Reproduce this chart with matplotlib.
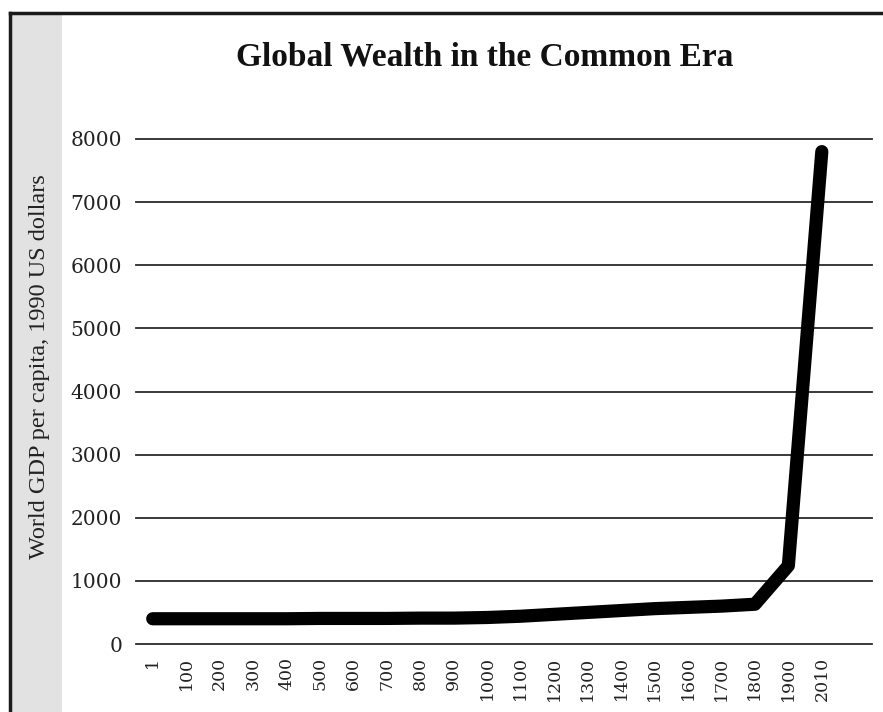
import matplotlib
matplotlib.use("Agg")
import matplotlib.pyplot as plt
from matplotlib.lines import Line2D
from matplotlib.patches import Rectangle

years = ["1", "100", "200", "300", "400", "500", "600", "700", "800", "900",
         "1000", "1100", "1200", "1300", "1400", "1500", "1600", "1700",
         "1800", "1900", "2010"]
gdp = [400, 400, 400, 400, 400, 405, 405, 405, 410, 410,
       420, 440, 470, 500, 530, 560, 580, 600, 630, 1240, 7800]
yticks = [0, 1000, 2000, 3000, 4000, 5000, 6000, 7000, 8000]

W, H = 883, 712
fig = plt.figure(figsize=(W / 100, H / 100), dpi=100)
fig.patch.set_facecolor("white")

# scanned-page decorations: grey strip and frame lines
fig.add_artist(Rectangle((10 / W, 0), 52 / W, 1 - 14 / H, transform=fig.transFigure,
                         facecolor="#e2e2e2", edgecolor="none", zorder=0))
fig.add_artist(Line2D([10 / W, 1], [1 - 13 / H, 1 - 13 / H], transform=fig.transFigure,
                      color="#1a1a1a", lw=2.5))
fig.add_artist(Line2D([10 / W, 10 / W], [0, 1 - 13 / H], transform=fig.transFigure,
                      color="#1a1a1a", lw=2.5))

left, right = 136 / W, 872 / W
bottom, top = 1 - 644 / H, 1 - 139 / H
ax = fig.add_axes([left, bottom, right - left, top - bottom])
ax.set_facecolor("white")

x = list(range(len(years)))
ax.plot(x, gdp, color="black", lw=9.5, solid_joinstyle="round",
        solid_capstyle="round", clip_on=False, zorder=3)

ax.set_xlim(-0.5, len(years) + 0.5)
ax.set_ylim(0, 8000)
ax.set_yticks(yticks)
ax.set_yticklabels([str(v) for v in yticks], fontsize=14.5, family="DejaVu Serif",
                   color="#222222")
ax.set_xticks(x)
ax.set_xticklabels(years, rotation=90, fontsize=12.5, family="DejaVu Serif",
                   color="#222222")
ax.tick_params(axis="both", length=0)
ax.tick_params(axis="y", pad=10)
ax.tick_params(axis="x", pad=9)
for s in ax.spines.values():
    s.set_visible(False)
for v in yticks:
    ax.axhline(v, color="#2a2a2a", lw=1.3, zorder=1, clip_on=False)

fig.text(485 / W, 1 - 57 / H, "Global Wealth in the Common Era", ha="center", va="center",
         fontsize=24, fontweight="bold", family="Liberation Serif", color="#111111")
fig.text(40 / W, 1 - 367 / H, "World GDP per capita, 1990 US dollars", ha="center",
         va="center", rotation=90, fontsize=17.5, family="Liberation Serif", color="#222222")

fig.savefig("out.png", dpi=100, facecolor="white")
